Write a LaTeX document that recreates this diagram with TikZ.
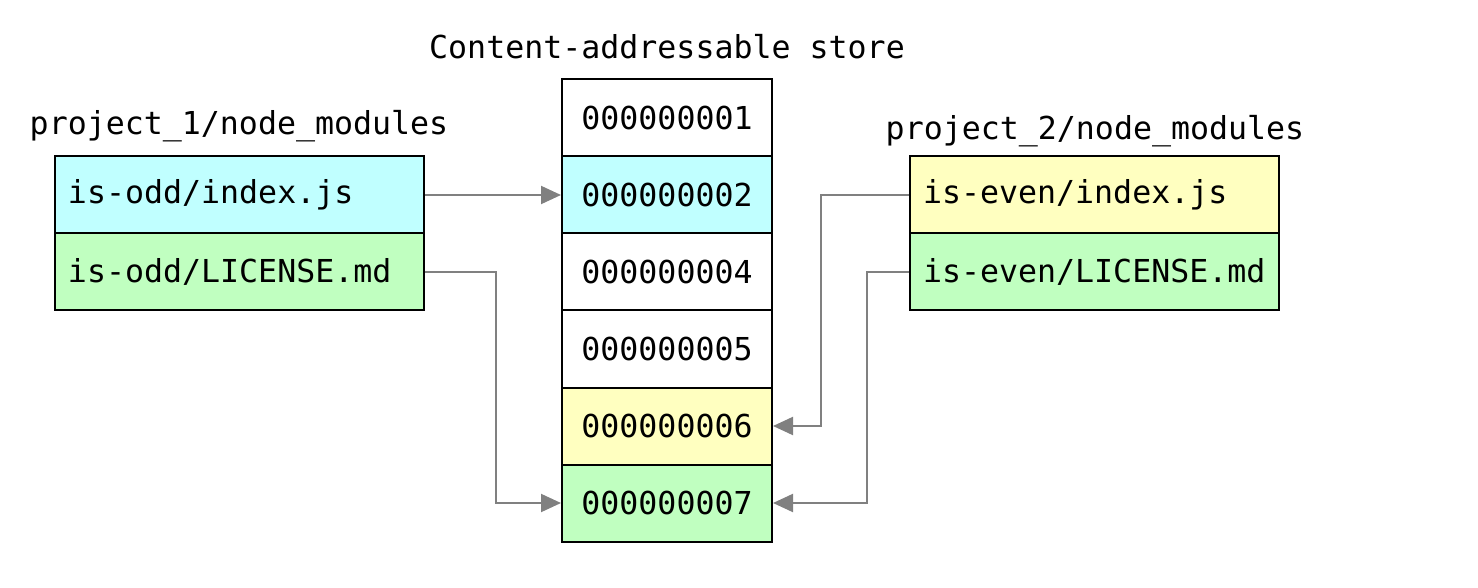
\documentclass[tikz,border=0pt]{standalone}
\usepackage{fontspec}
\setmainfont{DejaVu Sans Mono}
\usetikzlibrary{arrows.meta}
\definecolor{cyanbox}{HTML}{C0FFFF}
\definecolor{greenbox}{HTML}{C0FFC0}
\definecolor{yellowbox}{HTML}{FFFFC0}
\definecolor{arrowgray}{HTML}{808080}
\begin{document}
\begin{tikzpicture}[x=0.5pt,y=-0.5pt,
  every node/.style={font=\fontsize{15.8}{19}\selectfont},
  cell/.style={draw=black,line width=1pt,minimum width=105pt,minimum height=38.5pt,inner sep=0pt,anchor=center},
  filebox/.style={draw=black,line width=1pt,minimum height=38.5pt,text width=171.5pt,inner xsep=6.5pt,inner ysep=0pt,align=left,anchor=center},
  arr/.style={draw=arrowgray,line width=1pt,-{Triangle[length=10pt,width=9pt]}},
  lbl/.style={inner sep=0pt,anchor=center}]
\useasboundingbox (0,0) rectangle (1478,588);
% title
\node[lbl] (title) at (667,47) {Content-addressable store};
% store cells
\node[cell] (s1) at (667,118) {000000001};
\node[cell,fill=cyanbox] (s2) at (667,195) {000000002};
\node[cell] (s3) at (667,272) {000000004};
\node[cell] (s4) at (667,349) {000000005};
\node[cell,fill=yellowbox] (s5) at (667,426) {000000006};
\node[cell,fill=greenbox] (s6) at (667,503) {000000007};
% project 1
\node[lbl] (p1) at (239,126) {project\_1/node\_modules};
\node[filebox,fill=cyanbox] (l1) at (239.5,195) {is-odd/index.js};
\node[filebox,fill=greenbox] (l2) at (239.5,272) {is-odd/LICENSE.md};
% project 2
\node[lbl] (p2) at (1095,131) {project\_2/node\_modules};
\node[filebox,fill=yellowbox] (r1) at (1094.5,195) {is-even/index.js};
\node[filebox,fill=greenbox] (r2) at (1094.5,272) {is-even/LICENSE.md};
% connectors
\draw[arr] (l1.east) -- (s2.west);
\draw[arr] (l2.east) -- ++(71,0) |- (s6.west);
\draw[arr] (r1.west) -- ++(-88,0) |- (s5.east);
\draw[arr] (r2.west) -- ++(-42,0) |- (s6.east);
\end{tikzpicture}
\end{document}
